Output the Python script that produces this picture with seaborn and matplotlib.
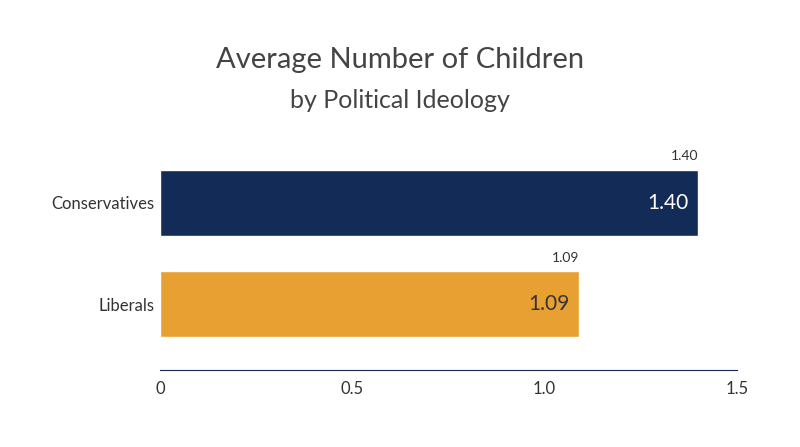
import matplotlib.pyplot as plt
import seaborn as sns
import pandas as pd

groups = ["Conservatives", "Liberals"]
avg_children = [1.40, 1.09]
bar_colors = ["#132b57", "#e8a033"]
inner_text_colors = ["white", "#333333"]
x_ticks = [0, 0.5, 1.0, 1.5]
x_tick_labels = ["0", "0.5", "1.0", "1.5"]

sns.set_style("white")
plt.rcParams['font.family'] = ['Lato', 'DejaVu Sans']

df = pd.DataFrame({"group": groups, "value": avg_children})

fig = plt.figure(figsize=(8, 4.47), dpi=100)
ax = fig.add_axes([0.2, 0.172, 0.721, 0.515])
sns.barplot(data=df, x="value", y="group", hue="group", palette=bar_colors,
            width=0.65, legend=False, ax=ax, saturation=1)

for i, v in enumerate(avg_children):
    ax.text(v - 0.025, i, f"{v:.2f}", ha="right", va="center", fontsize=15,
            color=inner_text_colors[i])
    ax.text(v, i - 0.4, f"{v:.2f}", ha="right", va="bottom", fontsize=10, color="#333333")

ax.set_xlim(0, 1.5)
ax.set_ylim(1.65, -0.62)
ax.set_xticks(x_ticks)
ax.set_xticklabels(x_tick_labels, fontsize=12, color="#333333")
ax.tick_params(axis="x", direction="in", length=8, color="#132b57", pad=8)
ax.tick_params(axis="y", length=0, labelsize=12, labelcolor="#333333", pad=4)
ax.set_xlabel("")
ax.set_ylabel("")
for s in ["top", "right", "left"]:
    ax.spines[s].set_visible(False)
ax.spines["bottom"].set_color("#132b57")

fig.text(0.5, 0.865, "Average Number of Children", ha="center", va="center",
         fontsize=21, color="#444444")
fig.text(0.5, 0.775, "by Political Ideology", ha="center", va="center",
         fontsize=18, color="#444444")

fig.savefig("out.png", dpi=100)
